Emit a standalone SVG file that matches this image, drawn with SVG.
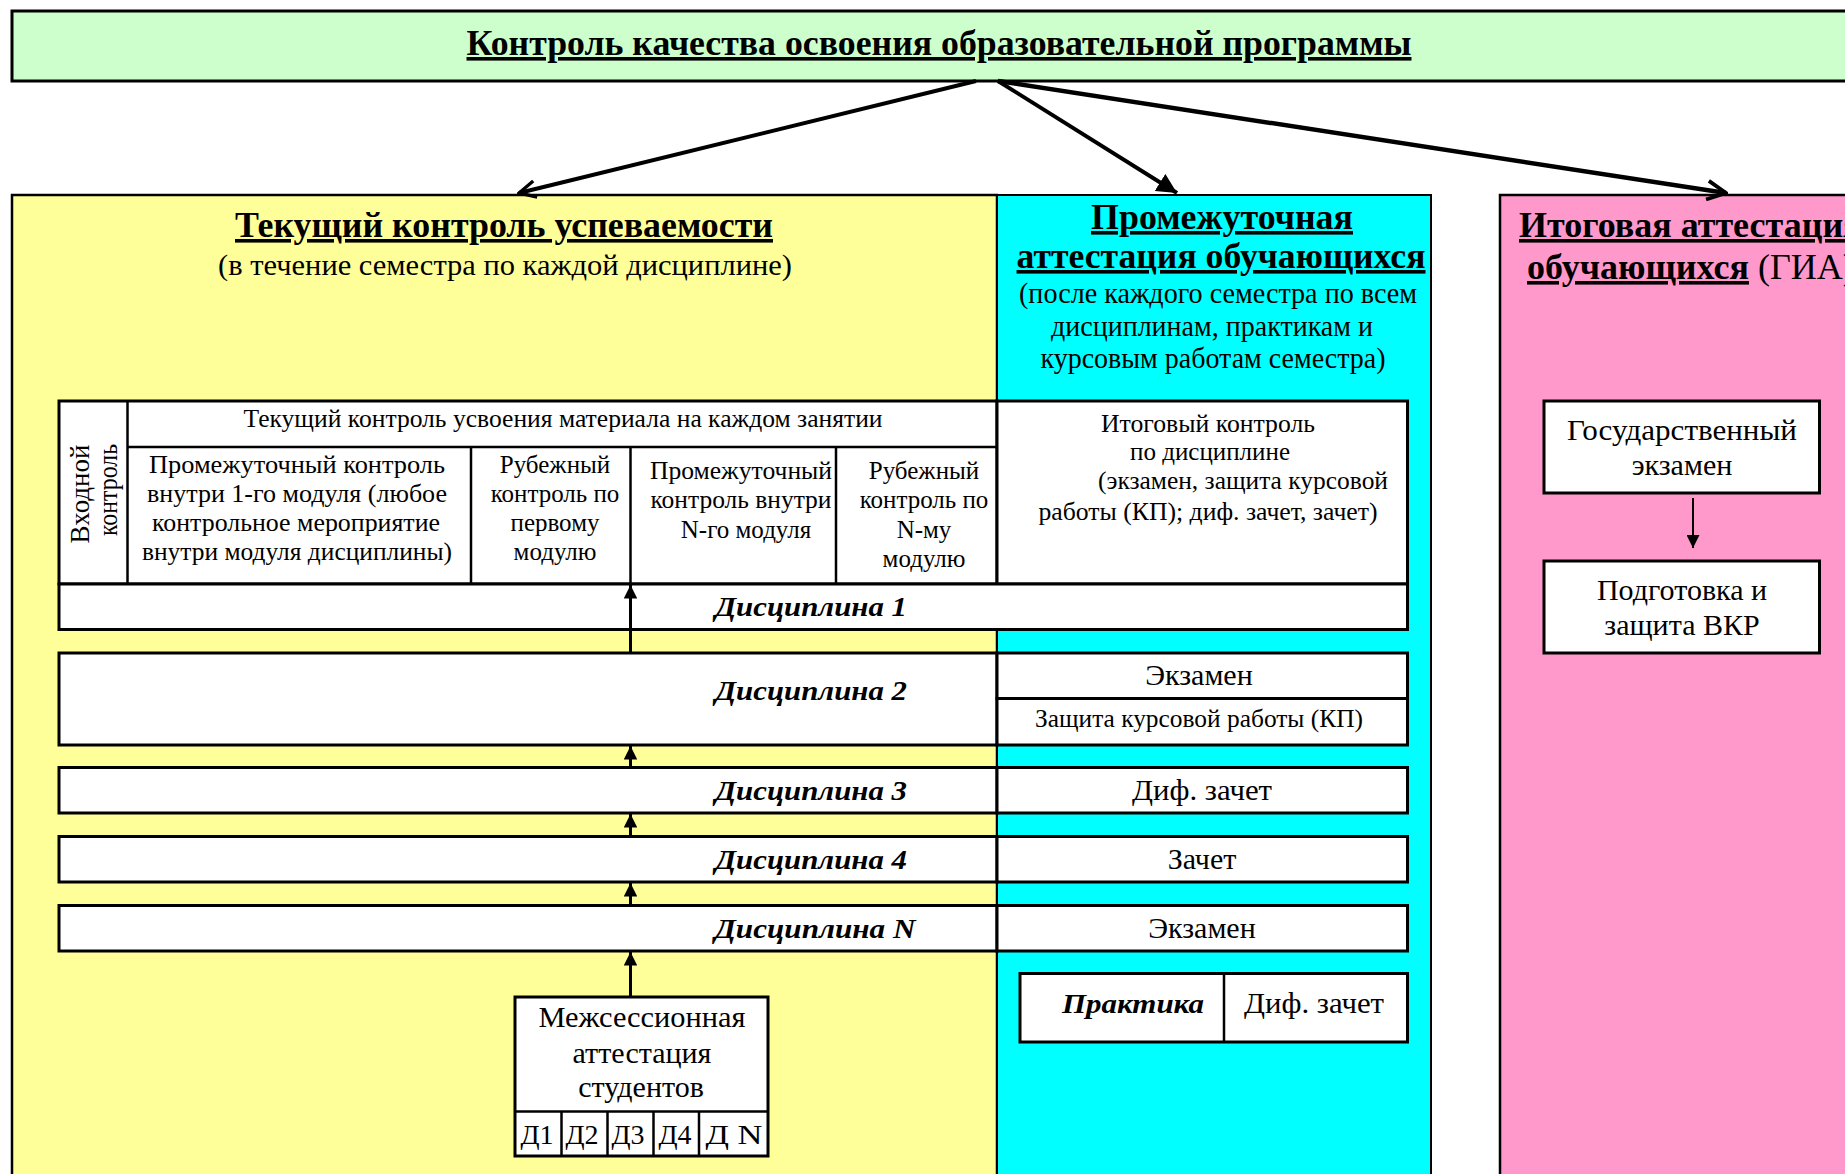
<svg xmlns="http://www.w3.org/2000/svg" width="1845" height="1174" viewBox="0 0 1845 1174">
<defs>
<style>
.t{font-family:"Liberation Serif","Times New Roman",serif;fill:#000}
.m{text-anchor:middle}
.b{font-weight:bold}
.bi{font-weight:bold;font-style:italic}
.u{text-decoration:underline}
.cell{fill:#fff;stroke:#000;stroke-width:3}
.div{stroke:#000;stroke-width:2.5}
.conn{stroke:#000;fill:none}
</style>
<marker id="ah" viewBox="0 0 10 10" refX="10" refY="5" markerWidth="5" markerHeight="5" orient="auto" markerUnits="strokeWidth">
<path d="M0,0 L10,5 L0,10 z" fill="#000"/>
</marker>
<marker id="av" viewBox="0 0 12 12" refX="11" refY="6" markerWidth="5" markerHeight="5" orient="auto" markerUnits="strokeWidth">
<path d="M1,1 L11,6 L1,11" fill="none" stroke="#000" stroke-width="2"/>
</marker>
<marker id="au" viewBox="0 0 10 10" refX="10" refY="5" markerWidth="6" markerHeight="4.5" orient="auto" markerUnits="strokeWidth">
<path d="M0,0 L10,5 L0,10 z" fill="#000"/>
</marker>
<marker id="ad" viewBox="0 0 10 10" refX="10" refY="5" markerWidth="9" markerHeight="6.5" orient="auto" markerUnits="strokeWidth">
<path d="M0,0 L10,5 L0,10 z" fill="#000"/>
</marker>
</defs>
<rect width="1845" height="1174" fill="#fff"/>

<g id="title">
<rect x="12" y="11" width="1850" height="70" fill="#ccffcc" stroke="#000" stroke-width="3"/>
<text class="t b u m" x="939" y="55" font-size="36" textLength="945" lengthAdjust="spacingAndGlyphs">Контроль качества освоения образовательной программы</text>
</g>

<g id="panel-current">
<rect x="12" y="195" width="985" height="1000" fill="#ffff99" stroke="#000" stroke-width="2.5"/>
<text class="t b u m" x="504" y="237" font-size="36" textLength="538" lengthAdjust="spacingAndGlyphs">Текущий контроль успеваемости</text>
<text class="t m" x="505" y="275" font-size="30" textLength="574" lengthAdjust="spacingAndGlyphs">(в течение семестра по каждой дисциплине)</text>
</g>

<g id="panel-intermediate">
<rect x="997" y="195" width="434" height="1000" fill="#00ffff" stroke="#000" stroke-width="2"/>
<text class="t b u m" x="1222" y="229" font-size="36" textLength="262" lengthAdjust="spacingAndGlyphs">Промежуточная</text>
<text class="t b u m" x="1221" y="268" font-size="36" textLength="409" lengthAdjust="spacingAndGlyphs">аттестация обучающихся</text>
<text class="t m" x="1218" y="303" font-size="28.5" textLength="398" lengthAdjust="spacingAndGlyphs">(после каждого семестра по всем</text>
<text class="t m" x="1212" y="336" font-size="28.5" textLength="322" lengthAdjust="spacingAndGlyphs">дисциплинам, практикам и</text>
<text class="t m" x="1213" y="368" font-size="28.5" textLength="345" lengthAdjust="spacingAndGlyphs">курсовым работам семестра)</text>
</g>

<g id="panel-final">
<rect x="1500" y="195" width="400" height="1000" fill="#ff99cc" stroke="#000" stroke-width="2.5"/>
<text class="t b u" x="1519" y="237" font-size="36">Итоговая аттестация</text>
<text class="t" x="1527" y="279" font-size="36"><tspan class="b u">обучающихся</tspan> (ГИА)</text>
</g>

<g id="table-header">
<rect class="cell" x="59" y="401" width="938" height="183"/>
<line class="div" x1="127.5" y1="401" x2="127.5" y2="584"/>
<line class="div" x1="127.5" y1="447" x2="997" y2="447"/>
<line class="div" x1="471" y1="447" x2="471" y2="584"/>
<line class="div" x1="630.5" y1="447" x2="630.5" y2="584"/>
<line class="div" x1="836" y1="447" x2="836" y2="584"/>
<text class="t" font-size="27" text-anchor="middle" textLength="99" lengthAdjust="spacingAndGlyphs" transform="translate(89,494) rotate(-90)">Входной</text>
<text class="t" font-size="27" text-anchor="middle" textLength="92" lengthAdjust="spacingAndGlyphs" transform="translate(117,490) rotate(-90)">контроль</text>
<text class="t m" x="563" y="427" font-size="25" textLength="639" lengthAdjust="spacingAndGlyphs">Текущий контроль усвоения материала на каждом занятии</text>
<text class="t m" x="297" y="473" font-size="25" textLength="296" lengthAdjust="spacingAndGlyphs">Промежуточный контроль</text>
<text class="t m" x="297" y="502" font-size="25" textLength="300" lengthAdjust="spacingAndGlyphs">внутри 1-го модуля (любое</text>
<text class="t m" x="296" y="531" font-size="25" textLength="288" lengthAdjust="spacingAndGlyphs">контрольное мероприятие</text>
<text class="t m" x="297" y="560" font-size="25" textLength="310" lengthAdjust="spacingAndGlyphs">внутри модуля дисциплины)</text>
<text class="t m" x="555" y="473" font-size="25">Рубежный</text>
<text class="t m" x="555" y="502" font-size="25">контроль по</text>
<text class="t m" x="555" y="531" font-size="25">первому</text>
<text class="t m" x="555" y="560" font-size="25">модулю</text>
<text class="t m" x="741" y="479" font-size="25" textLength="182" lengthAdjust="spacingAndGlyphs">Промежуточный</text>
<text class="t m" x="741" y="508" font-size="25" textLength="181" lengthAdjust="spacingAndGlyphs">контроль внутри</text>
<text class="t m" x="746" y="538" font-size="25">N-го модуля</text>
<text class="t m" x="924" y="479" font-size="25">Рубежный</text>
<text class="t m" x="924" y="508" font-size="25">контроль по</text>
<text class="t m" x="924" y="538" font-size="25">N-му</text>
<text class="t m" x="924" y="567" font-size="25">модулю</text>
</g>

<g id="final-control">
<rect class="cell" x="997" y="401" width="410.5" height="183"/>
<text class="t m" x="1208" y="432" font-size="25" textLength="214" lengthAdjust="spacingAndGlyphs">Итоговый контроль</text>
<text class="t m" x="1210" y="460" font-size="25" textLength="160" lengthAdjust="spacingAndGlyphs">по дисциплине</text>
<text class="t m" x="1243" y="489" font-size="25" textLength="290" lengthAdjust="spacingAndGlyphs">(экзамен, защита курсовой</text>
<text class="t m" x="1208" y="520" font-size="25" textLength="339" lengthAdjust="spacingAndGlyphs">работы (КП); диф. зачет, зачет)</text>
</g>

<g id="discipline-1">
<rect class="cell" x="59" y="584" width="1348.5" height="45.5"/>
<text class="t bi m" x="811" y="616" font-size="28" textLength="192" lengthAdjust="spacingAndGlyphs">Дисциплина 1</text>
</g>

<g id="discipline-2">
<rect class="cell" x="59" y="653" width="938" height="92"/>
<text class="t bi m" x="811" y="700" font-size="28" textLength="192" lengthAdjust="spacingAndGlyphs">Дисциплина 2</text>
<rect class="cell" x="997" y="653" width="410.5" height="45.5"/>
<rect class="cell" x="997" y="698.5" width="410.5" height="46.5"/>
<text class="t m" x="1199" y="685" font-size="30">Экзамен</text>
<text class="t m" x="1199" y="727" font-size="25" textLength="328" lengthAdjust="spacingAndGlyphs">Защита курсовой работы (КП)</text>
</g>

<g id="discipline-3">
<rect class="cell" x="59" y="767.5" width="938" height="45.5"/>
<rect class="cell" x="997" y="767.5" width="410.5" height="45.5"/>
<text class="t bi m" x="811" y="800" font-size="28" textLength="192" lengthAdjust="spacingAndGlyphs">Дисциплина 3</text>
<text class="t m" x="1202" y="800" font-size="30" textLength="140" lengthAdjust="spacingAndGlyphs">Диф. зачет</text>
</g>

<g id="discipline-4">
<rect class="cell" x="59" y="836.5" width="938" height="45.5"/>
<rect class="cell" x="997" y="836.5" width="410.5" height="45.5"/>
<text class="t bi m" x="811" y="869" font-size="28" textLength="192" lengthAdjust="spacingAndGlyphs">Дисциплина 4</text>
<text class="t m" x="1202" y="869" font-size="30">Зачет</text>
</g>

<g id="discipline-n">
<rect class="cell" x="59" y="905.5" width="938" height="45.5"/>
<rect class="cell" x="997" y="905.5" width="410.5" height="45.5"/>
<text class="t bi m" x="815" y="938" font-size="28" textLength="201" lengthAdjust="spacingAndGlyphs">Дисциплина N</text>
<text class="t m" x="1202" y="938" font-size="30">Экзамен</text>
</g>

<g id="practice">
<rect class="cell" x="1020" y="973.5" width="387.5" height="68.5"/>
<line class="div" x1="1224" y1="973.5" x2="1224" y2="1042"/>
<text class="t bi m" x="1133" y="1013" font-size="28" textLength="142" lengthAdjust="spacingAndGlyphs">Практика</text>
<text class="t m" x="1314" y="1013" font-size="30" textLength="140" lengthAdjust="spacingAndGlyphs">Диф. зачет</text>
</g>

<g id="intersession">
<rect class="cell" x="515" y="997" width="253" height="159"/>
<line class="div" x1="515" y1="1111.5" x2="768" y2="1111.5"/>
<line class="div" x1="561.5" y1="1111.5" x2="561.5" y2="1156"/>
<line class="div" x1="607.5" y1="1111.5" x2="607.5" y2="1156"/>
<line class="div" x1="653.5" y1="1111.5" x2="653.5" y2="1156"/>
<line class="div" x1="699" y1="1111.5" x2="699" y2="1156"/>
<text class="t m" x="642" y="1027" font-size="30" textLength="207" lengthAdjust="spacingAndGlyphs">Межсессионная</text>
<text class="t m" x="642" y="1063" font-size="30">аттестация</text>
<text class="t m" x="641" y="1097" font-size="30">студентов</text>
<text class="t m" x="537" y="1144" font-size="28">Д1</text>
<text class="t m" x="582" y="1144" font-size="28">Д2</text>
<text class="t m" x="628" y="1144" font-size="28">Д3</text>
<text class="t m" x="675" y="1144" font-size="28">Д4</text>
<text class="t m" x="734" y="1144" font-size="28" textLength="57" lengthAdjust="spacingAndGlyphs">Д N</text>
</g>

<g id="state-exam">
<rect class="cell" x="1544" y="401" width="275.5" height="92"/>
<text class="t m" x="1682" y="440" font-size="30" textLength="230" lengthAdjust="spacingAndGlyphs">Государственный</text>
<text class="t m" x="1682" y="475" font-size="30">экзамен</text>
</g>

<g id="thesis">
<rect class="cell" x="1544" y="561" width="275.5" height="92"/>
<text class="t m" x="1682" y="600" font-size="30">Подготовка и</text>
<text class="t m" x="1682" y="635" font-size="30">защита ВКР</text>
</g>

<g id="connectors">
<line class="conn" x1="976" y1="81" x2="519" y2="193" stroke-width="4" marker-end="url(#av)"/>
<line class="conn" x1="998" y1="81" x2="1177" y2="193" stroke-width="4" marker-end="url(#ah)"/>
<line class="conn" x1="998" y1="81" x2="1726" y2="193" stroke-width="4.5" marker-end="url(#av)"/>
<line class="conn" x1="630.5" y1="653" x2="630.5" y2="585" stroke-width="3" marker-end="url(#au)"/>
<line class="conn" x1="630.5" y1="767" x2="630.5" y2="746" stroke-width="3" marker-end="url(#au)"/>
<line class="conn" x1="630.5" y1="836" x2="630.5" y2="814" stroke-width="3" marker-end="url(#au)"/>
<line class="conn" x1="630.5" y1="905" x2="630.5" y2="883" stroke-width="3" marker-end="url(#au)"/>
<line class="conn" x1="630.5" y1="997" x2="630.5" y2="952" stroke-width="3" marker-end="url(#au)"/>
<line class="conn" x1="1693" y1="498" x2="1693" y2="548" stroke-width="2" marker-end="url(#ad)"/>
</g>
</svg>
